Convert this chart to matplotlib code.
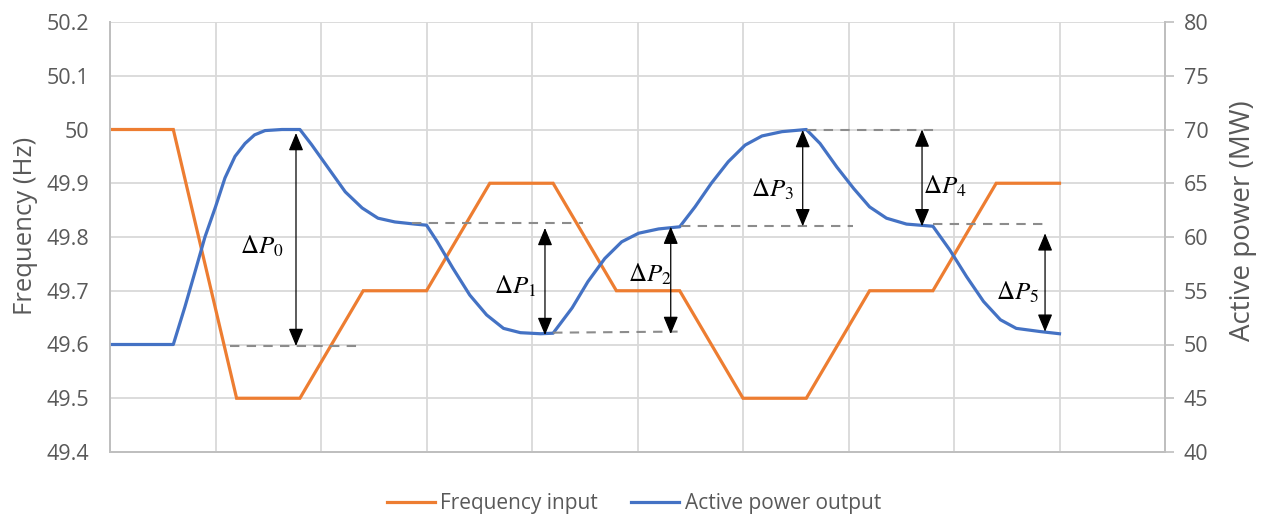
import matplotlib
matplotlib.use("Agg")
import matplotlib.pyplot as plt
from matplotlib.lines import Line2D

# ---- data ----
freq_t = [0, 0.6, 1.2, 1.8, 2.4, 3.0, 3.6, 4.2, 4.8, 5.4, 6.0, 6.6, 7.2, 7.8, 8.4, 9.0]
freq_hz = [50.0, 50.0, 49.5, 49.5, 49.7, 49.7, 49.9, 49.9, 49.7, 49.7, 49.5, 49.5, 49.7, 49.7, 49.9, 49.9]

power_t = [0, 0.6, 0.71, 0.81, 0.90, 1.0, 1.09, 1.185, 1.28, 1.37, 1.47, 1.63, 1.8,
           1.91, 2.07, 2.23, 2.39, 2.54, 2.70, 2.89, 3.0,
           3.10, 3.25, 3.41, 3.57, 3.73, 3.89, 4.08, 4.2,
           4.38, 4.53, 4.69, 4.85, 5.01, 5.20, 5.4,
           5.545, 5.70, 5.86, 6.02, 6.18, 6.37, 6.6,
           6.73, 6.89, 7.05, 7.20, 7.36, 7.55, 7.8,
           7.96, 8.12, 8.28, 8.44, 8.59, 8.82, 9.0]
power_mw = [50.0, 50.0, 53.5, 56.9, 60.0, 62.8, 65.5, 67.5, 68.7, 69.5, 69.9, 70.0, 70.0,
            68.6, 66.4, 64.2, 62.7, 61.75, 61.4, 61.2, 61.1,
            59.6, 57.1, 54.6, 52.75, 51.5, 51.1, 51.0, 51.05,
            53.4, 55.85, 58.0, 59.55, 60.35, 60.75, 60.95,
            62.8, 65.0, 67.0, 68.55, 69.4, 69.8, 70.0,
            68.7, 66.5, 64.5, 62.8, 61.75, 61.2, 61.0,
            58.8, 56.3, 54.0, 52.3, 51.5, 51.2, 51.0]

freq_ticks = [49.4, 49.5, 49.6, 49.7, 49.8, 49.9, 50.0, 50.1, 50.2]
freq_tick_labels = ["49.4", "49.5", "49.6", "49.7", "49.8", "49.9", "50", "50.1", "50.2"]
power_ticks = [40, 45, 50, 55, 60, 65, 70, 75, 80]

# reference dashed levels (power, MW): (x start, x end, level start, level end)
ref_lines = [(1.14, 2.35, 49.85, 49.85),
             (2.86, 4.48, 61.26, 61.26),
             (4.20, 5.38, 51.1, 51.2),
             (5.41, 7.04, 61.0, 61.0),
             (6.61, 7.87, 70.0, 70.0),
             (7.80, 8.88, 61.2, 61.2)]

# delta-P arrows: (x, top, bottom), labels: (x, y)
dp_arrows = [(1.763, 69.67, 49.86),
             (4.123, 60.84, 50.88),
             (5.315, 60.96, 50.98),
             (6.566, 69.95, 61.0),
             (7.697, 70.0, 61.0),
             (8.863, 60.34, 51.19)]
dp_labels = [(1.44, 59.07), (3.84, 55.35), (5.12, 56.47),
             (6.28, 64.37), (7.91, 64.65), (8.60, 54.79)]

ORANGE = "#ED7D31"
BLUE = "#4472C4"
GRID = "#D9D9D9"
SPINE = "#BFBFBF"
TXT = "#595959"

plt.rcParams["mathtext.fontset"] = "stix"
plt.rcParams["font.family"] = ["Open Sans", "DejaVu Sans"]

fig = plt.figure(figsize=(12.68, 5.17), dpi=100)
ax = fig.add_axes([110 / 1268, 1 - 452 / 517, (1165 - 110) / 1268, (452 - 22) / 517])
ax2 = ax.twinx()

ax.set_xlim(0, 10)
ax.set_ylim(49.4, 50.2)
ax2.set_ylim(40, 80)

ax.set_xticks(range(0, 11))
ax.set_yticks(freq_ticks)
ax.set_yticklabels(freq_tick_labels)
ax2.set_yticks(power_ticks)

ax.grid(True, color=GRID, linewidth=1.3)
ax.set_axisbelow(True)
ax.tick_params(axis="x", length=0, labelbottom=False)
ax.tick_params(axis="y", length=0, pad=15, labelsize=15.5, labelcolor=TXT)
ax2.tick_params(axis="y", length=6.5, width=1.2, color=SPINE, pad=7, labelsize=15.5, labelcolor=TXT)

for a in (ax, ax2):
    for s in a.spines.values():
        s.set_color(SPINE)
        s.set_linewidth(1.3)
    a.spines["top"].set_visible(False)

ax.plot(freq_t, freq_hz, color=ORANGE, linewidth=2.3, solid_joinstyle="miter")
ax2.plot(power_t, power_mw, color=BLUE, linewidth=2.3)

for x0, x1, y0, y1 in ref_lines:
    ax2.plot([x0, x1], [y0, y1], color="#8C8C8C", linewidth=1.5, dashes=(4.5, 3.5))

for (x, top, bot) in dp_arrows:
    ax2.annotate("", xy=(x, top), xytext=(x, bot),
                 arrowprops=dict(arrowstyle="<|-|>,head_length=0.6,head_width=0.25",
                                 color="black", lw=0.9,
                                 mutation_scale=18, shrinkA=0, shrinkB=0))
for i, (x, y) in enumerate(dp_labels):
    ax2.text(x, y, r"$\Delta P_{%d}$" % i, fontsize=18, ha="center", va="center", color="black")

ax.set_ylabel("Frequency (Hz)", fontsize=18.5, color=TXT)
ax.yaxis.set_label_coords(-(110 - 38) / 1055, 0.526)
ax2.set_ylabel("Active power (MW)", fontsize=20, color=TXT)
ax2.yaxis.set_label_coords(1 + (1229 - 1165) / 1055, 0.539)

handles = [Line2D([], [], color=ORANGE, linewidth=2.3),
           Line2D([], [], color=BLUE, linewidth=2.3)]
leg = fig.legend(handles, ["Frequency input", "Active power output"], loc="center",
                 bbox_to_anchor=(634 / 1268, 1 - 504 / 517), ncol=2, frameon=False,
                 fontsize=15, handlelength=2.3, handletextpad=0.25, columnspacing=1.6)
for t in leg.get_texts():
    t.set_color(TXT)

fig.savefig("out.png", dpi=100)
